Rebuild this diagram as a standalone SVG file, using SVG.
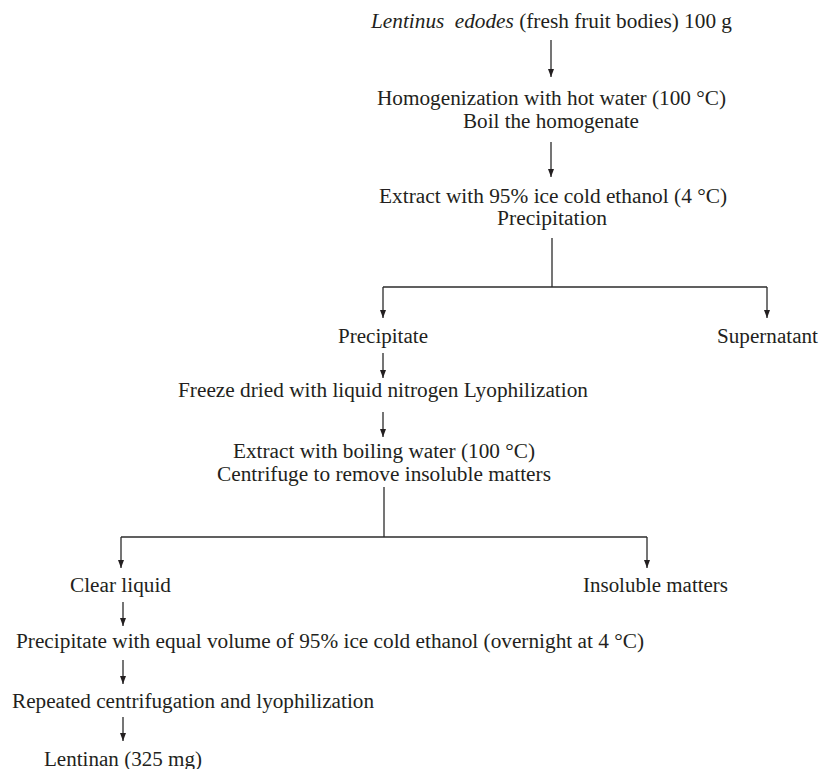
<svg xmlns="http://www.w3.org/2000/svg" width="819" height="769" viewBox="0 0 819 769">
<style>
  text { font-family: "Liberation Serif", "Times New Roman", serif; font-size: 20.5px; fill: #231f20; }
  .ln { stroke: #2b2b2b; stroke-width: 1.3; fill: none; }
  .ar { stroke: #2b2b2b; stroke-width: 1.3; fill: none; marker-end: url(#ah); }
</style>
<defs>
  <marker id="ah" viewBox="0 0 8 6" refX="8" refY="3" markerWidth="8" markerHeight="6" markerUnits="userSpaceOnUse" orient="auto">
    <path d="M0,0 L8,3 L0,6 z" fill="#231f20"/>
  </marker>
</defs>
<rect width="819" height="769" fill="#ffffff"/>

<g id="connectors">
  <line class="ar" x1="551" y1="40" x2="551" y2="77"/>
  <line class="ar" x1="551" y1="142" x2="551" y2="177"/>
  <line class="ln" x1="552" y1="238" x2="552" y2="287"/>
  <line class="ln" x1="383" y1="287" x2="767" y2="287"/>
  <line class="ar" x1="383" y1="287" x2="383" y2="318"/>
  <line class="ar" x1="767" y1="287" x2="767" y2="318"/>
  <line class="ar" x1="383" y1="353" x2="383" y2="378"/>
  <line class="ar" x1="383" y1="412" x2="383" y2="437"/>
  <line class="ln" x1="384" y1="487" x2="384" y2="537"/>
  <line class="ln" x1="121" y1="537" x2="647" y2="537"/>
  <line class="ar" x1="121" y1="537" x2="121" y2="568"/>
  <line class="ar" x1="647" y1="537" x2="647" y2="568"/>
  <line class="ar" x1="123" y1="602" x2="123" y2="626"/>
  <line class="ar" x1="123" y1="660" x2="123" y2="684"/>
  <line class="ar" x1="123" y1="717" x2="123" y2="741"/>
</g>

<g id="n1"><text x="371" y="28" textLength="361" lengthAdjust="spacingAndGlyphs"><tspan font-style="italic">Lentinus</tspan><tspan font-style="italic" dx="10">edodes</tspan> (fresh fruit bodies) 100 g</text></g>
<g id="n2">
  <text x="377" y="105" textLength="349" lengthAdjust="spacingAndGlyphs">Homogenization with hot water (100 °C)</text>
  <text x="463" y="128" textLength="176" lengthAdjust="spacingAndGlyphs">Boil the homogenate</text>
</g>
<g id="n3">
  <text x="379" y="203" textLength="348" lengthAdjust="spacingAndGlyphs">Extract with 95% ice cold ethanol (4 °C)</text>
  <text x="497" y="225" textLength="110" lengthAdjust="spacingAndGlyphs">Precipitation</text>
</g>
<g id="n4"><text x="338" y="343" textLength="90" lengthAdjust="spacingAndGlyphs">Precipitate</text></g>
<g id="n5"><text x="717" y="343" textLength="101" lengthAdjust="spacingAndGlyphs">Supernatant</text></g>
<g id="n6"><text x="178" y="397" textLength="410" lengthAdjust="spacingAndGlyphs">Freeze dried with liquid nitrogen Lyophilization</text></g>
<g id="n7">
  <text x="233" y="458" textLength="302" lengthAdjust="spacingAndGlyphs">Extract with boiling water (100 °C)</text>
  <text x="217" y="481" textLength="334" lengthAdjust="spacingAndGlyphs">Centrifuge to remove insoluble matters</text>
</g>
<g id="n8"><text x="70" y="592" textLength="101" lengthAdjust="spacingAndGlyphs">Clear liquid</text></g>
<g id="n9"><text x="583" y="592" textLength="145" lengthAdjust="spacingAndGlyphs">Insoluble matters</text></g>
<g id="n10"><text x="16" y="648" textLength="628" lengthAdjust="spacingAndGlyphs">Precipitate with equal volume of 95% ice cold ethanol (overnight at 4 °C)</text></g>
<g id="n11"><text x="12" y="708" textLength="362" lengthAdjust="spacingAndGlyphs">Repeated centrifugation and lyophilization</text></g>
<g id="n12"><text x="44" y="766" textLength="158" lengthAdjust="spacingAndGlyphs">Lentinan (325 mg)</text></g>
</svg>
